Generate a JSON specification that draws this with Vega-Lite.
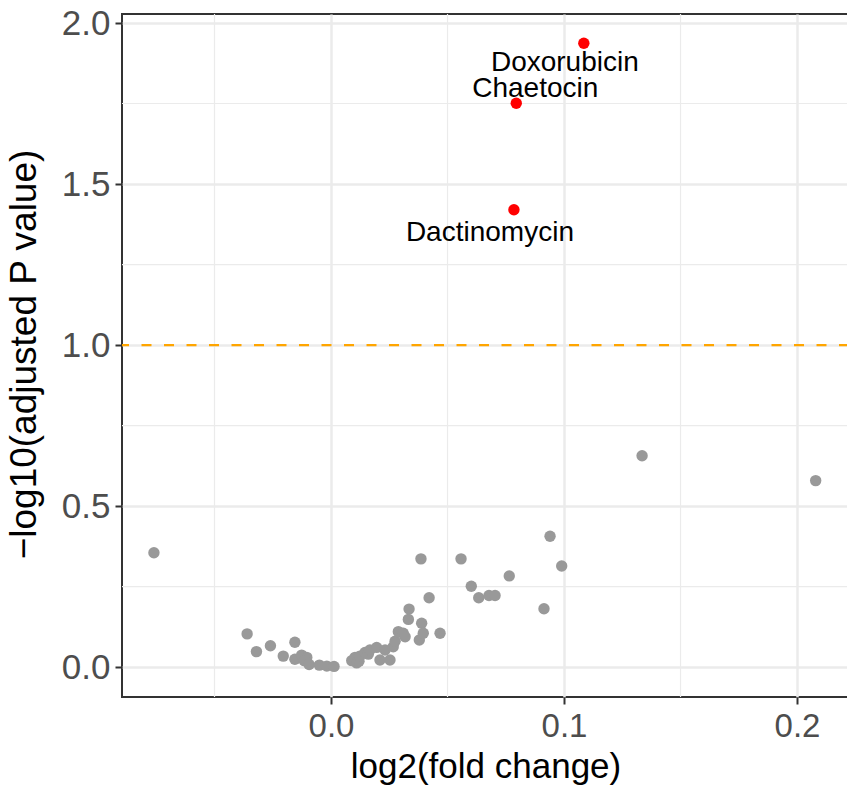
{
  "$schema": "https://vega.github.io/schema/vega-lite/v6.json",
  "autosize": "none",
  "width": 727,
  "height": 683,
  "padding": {"left": 122, "top": 14, "right": 0, "bottom": 91},
  "background": "white",
  "config": {
    "view": {"stroke": "#333333", "strokeWidth": 2},
    "font": "Liberation Sans",
    "axis": {
      "domain": false,
      "grid": true,
      "gridColor": "#EBEBEB",
      "gridWidth": 2.5,
      "tickColor": "#333333",
      "tickWidth": 2,
      "tickSize": 7,
      "labelColor": "#4D4D4D",
      "labelFont": "Liberation Sans",
      "labelFontSize": 33,
      "titleFont": "Liberation Sans",
      "titleFontSize": 35,
      "titleFontWeight": "normal",
      "titleColor": "#000000"
    }
  },
  "datasets": {
    "pts": [
      {"lfc": -0.076, "nlp": 0.355, "drug": "", "sig": "no"},
      {"lfc": -0.036, "nlp": 0.103, "drug": "", "sig": "no"},
      {"lfc": -0.032, "nlp": 0.048, "drug": "", "sig": "no"},
      {"lfc": -0.026, "nlp": 0.066, "drug": "", "sig": "no"},
      {"lfc": -0.0205, "nlp": 0.034, "drug": "", "sig": "no"},
      {"lfc": -0.0155, "nlp": 0.077, "drug": "", "sig": "no"},
      {"lfc": -0.0155, "nlp": 0.024, "drug": "", "sig": "no"},
      {"lfc": -0.0126, "nlp": 0.037, "drug": "", "sig": "no"},
      {"lfc": -0.0104, "nlp": 0.030, "drug": "", "sig": "no"},
      {"lfc": -0.0115, "nlp": 0.020, "drug": "", "sig": "no"},
      {"lfc": -0.0094, "nlp": 0.008, "drug": "", "sig": "no"},
      {"lfc": -0.005, "nlp": 0.006, "drug": "", "sig": "no"},
      {"lfc": -0.0018, "nlp": 0.003, "drug": "", "sig": "no"},
      {"lfc": 0.0013, "nlp": 0.002, "drug": "", "sig": "no"},
      {"lfc": 0.0089, "nlp": 0.020, "drug": "", "sig": "no"},
      {"lfc": 0.0103, "nlp": 0.030, "drug": "", "sig": "no"},
      {"lfc": 0.011, "nlp": 0.013, "drug": "", "sig": "no"},
      {"lfc": 0.012, "nlp": 0.018, "drug": "", "sig": "no"},
      {"lfc": 0.0124, "nlp": 0.034, "drug": "", "sig": "no"},
      {"lfc": 0.0146, "nlp": 0.045, "drug": "", "sig": "no"},
      {"lfc": 0.016, "nlp": 0.040, "drug": "", "sig": "no"},
      {"lfc": 0.0167, "nlp": 0.053, "drug": "", "sig": "no"},
      {"lfc": 0.0196, "nlp": 0.061, "drug": "", "sig": "no"},
      {"lfc": 0.021, "nlp": 0.022, "drug": "", "sig": "no"},
      {"lfc": 0.0232, "nlp": 0.053, "drug": "", "sig": "no"},
      {"lfc": 0.0253, "nlp": 0.022, "drug": "", "sig": "no"},
      {"lfc": 0.0267, "nlp": 0.063, "drug": "", "sig": "no"},
      {"lfc": 0.0275, "nlp": 0.080, "drug": "", "sig": "no"},
      {"lfc": 0.0289, "nlp": 0.110, "drug": "", "sig": "no"},
      {"lfc": 0.031, "nlp": 0.105, "drug": "", "sig": "no"},
      {"lfc": 0.0318, "nlp": 0.094, "drug": "", "sig": "no"},
      {"lfc": 0.0332, "nlp": 0.148, "drug": "", "sig": "no"},
      {"lfc": 0.0335, "nlp": 0.180, "drug": "", "sig": "no"},
      {"lfc": 0.0386, "nlp": 0.336, "drug": "", "sig": "no"},
      {"lfc": 0.0389, "nlp": 0.136, "drug": "", "sig": "no"},
      {"lfc": 0.0379, "nlp": 0.084, "drug": "", "sig": "no"},
      {"lfc": 0.0396, "nlp": 0.105, "drug": "", "sig": "no"},
      {"lfc": 0.0421, "nlp": 0.215, "drug": "", "sig": "no"},
      {"lfc": 0.0468, "nlp": 0.105, "drug": "", "sig": "no"},
      {"lfc": 0.0558, "nlp": 0.336, "drug": "", "sig": "no"},
      {"lfc": 0.0602, "nlp": 0.251, "drug": "", "sig": "no"},
      {"lfc": 0.0634, "nlp": 0.215, "drug": "", "sig": "no"},
      {"lfc": 0.0678, "nlp": 0.222, "drug": "", "sig": "no"},
      {"lfc": 0.0704, "nlp": 0.222, "drug": "", "sig": "no"},
      {"lfc": 0.0765, "nlp": 0.283, "drug": "", "sig": "no"},
      {"lfc": 0.0914, "nlp": 0.181, "drug": "", "sig": "no"},
      {"lfc": 0.094, "nlp": 0.406, "drug": "", "sig": "no"},
      {"lfc": 0.099, "nlp": 0.314, "drug": "", "sig": "no"},
      {"lfc": 0.1335, "nlp": 0.656, "drug": "", "sig": "no"},
      {"lfc": 0.208, "nlp": 0.579, "drug": "", "sig": "no"},
      {"lfc": 0.1085, "nlp": 1.937, "drug": "Doxorubicin", "sig": "yes"},
      {"lfc": 0.0795, "nlp": 1.751, "drug": "Chaetocin", "sig": "yes"},
      {"lfc": 0.0785, "nlp": 1.420, "drug": "Dactinomycin", "sig": "yes"}
    ],
    "minorx": [{"gx": -0.05}, {"gx": 0.05}, {"gx": 0.15}],
    "minory": [{"gy": 0.25}, {"gy": 0.75}, {"gy": 1.25}, {"gy": 1.75}],
    "thresh": [{"cut": 1.0}]
  },
  "layer": [
    {
      "data": {"name": "minorx"},
      "mark": {"type": "rule", "color": "#EBEBEB", "strokeWidth": 1.2},
      "encoding": {"x": {"field": "gx", "type": "quantitative"}}
    },
    {
      "data": {"name": "minory"},
      "mark": {"type": "rule", "color": "#EBEBEB", "strokeWidth": 1.2},
      "encoding": {"y": {"field": "gy", "type": "quantitative"}}
    },
    {
      "data": {"name": "thresh"},
      "mark": {"type": "rule", "color": "#FFA500", "strokeWidth": 2.2, "strokeDash": [10, 12.5]},
      "encoding": {"y": {"field": "cut", "type": "quantitative"}}
    },
    {
      "data": {"name": "pts"},
      "mark": {"type": "circle", "size": 130, "opacity": 1},
      "encoding": {
        "x": {
          "field": "lfc", "type": "quantitative",
          "scale": {"domain": [-0.0897, 0.2223], "nice": false, "zero": false},
          "axis": {
            "values": [0, 0.1, 0.2], "format": ".1f",
            "title": "log2(fold change)",
            "labelPadding": 6, "titleY": 80, "titleBaseline": "alphabetic"
          }
        },
        "y": {
          "field": "nlp", "type": "quantitative",
          "scale": {"domain": [-0.093, 2.028], "nice": false, "zero": false},
          "axis": {
            "values": [0, 0.5, 1, 1.5, 2], "format": ".1f",
            "title": "−log10(adjusted P value)",
            "labelPadding": 5, "labelFontSize": 35,
            "titleFontSize": 37,
            "titleX": -87, "titleY": 340, "titleAlign": "center", "titleBaseline": "alphabetic", "titleAngle": -90
          }
        },
        "color": {
          "field": "sig", "type": "nominal",
          "scale": {"domain": ["no", "yes"], "range": ["#999999", "#FF0000"]},
          "legend": null
        }
      }
    },
    {
      "data": {"name": "pts"},
      "transform": [{"filter": "datum.drug === 'Doxorubicin'"}],
      "mark": {"type": "text", "fontSize": 28, "font": "Liberation Sans", "color": "#000000", "align": "center", "baseline": "alphabetic", "dx": -19, "dy": 28},
      "encoding": {
        "x": {"field": "lfc", "type": "quantitative"},
        "y": {"field": "nlp", "type": "quantitative"},
        "text": {"field": "drug"}
      }
    },
    {
      "data": {"name": "pts"},
      "transform": [{"filter": "datum.drug === 'Chaetocin'"}],
      "mark": {"type": "text", "fontSize": 28, "font": "Liberation Sans", "color": "#000000", "align": "center", "baseline": "alphabetic", "dx": 19, "dy": -6},
      "encoding": {
        "x": {"field": "lfc", "type": "quantitative"},
        "y": {"field": "nlp", "type": "quantitative"},
        "text": {"field": "drug"}
      }
    },
    {
      "data": {"name": "pts"},
      "transform": [{"filter": "datum.drug === 'Dactinomycin'"}],
      "mark": {"type": "text", "fontSize": 28, "font": "Liberation Sans", "color": "#000000", "align": "center", "baseline": "alphabetic", "dx": -24, "dy": 31},
      "encoding": {
        "x": {"field": "lfc", "type": "quantitative"},
        "y": {"field": "nlp", "type": "quantitative"},
        "text": {"field": "drug"}
      }
    }
  ]
}
